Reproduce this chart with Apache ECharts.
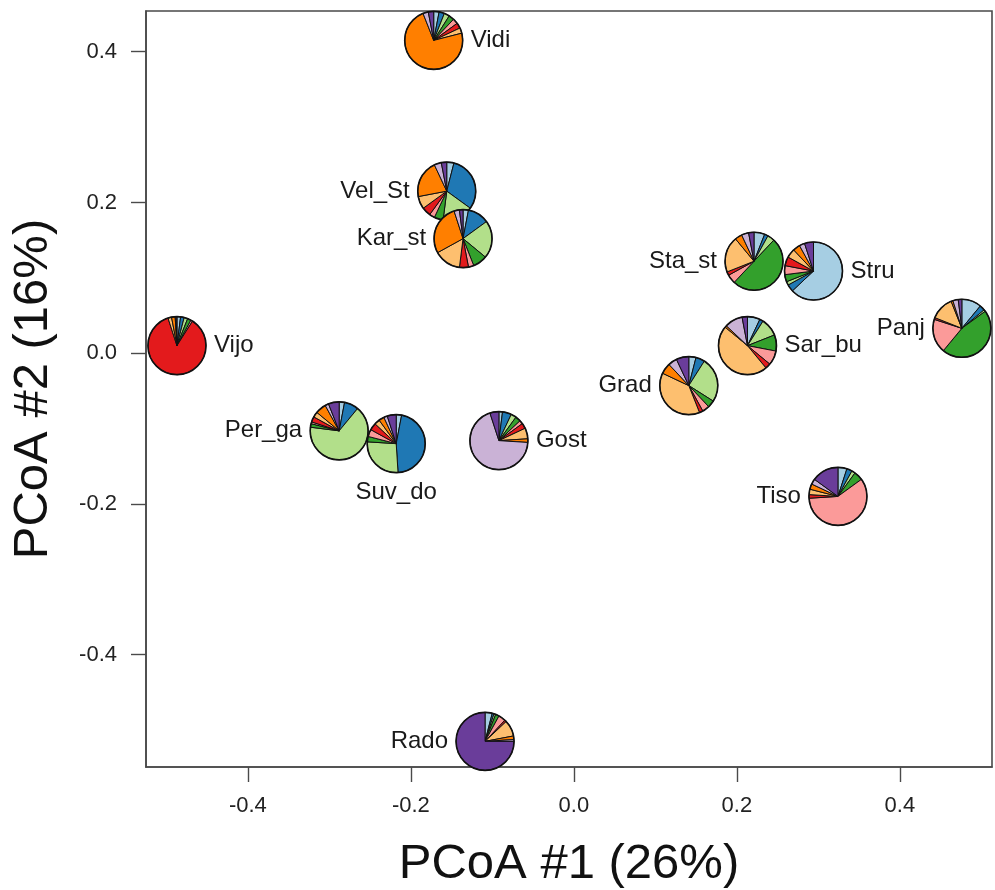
<!DOCTYPE html>
<html>
<head>
<meta charset="utf-8">
<script src="https://cdn.jsdelivr.net/npm/echarts@6/dist/echarts.min.js"></script>
<style>
  html, body { margin: 0; padding: 0; background: #fff; }
  #chart { width: 995px; height: 890px; }
</style>
</head>
<body>
<div id="chart"></div>
<script>
// Populations and their PCoA coordinates
const sites  = ['Vidi', 'Vel_St', 'Kar_st', 'Sta_st', 'Stru', 'Vijo', 'Panj', 'Sar_bu', 'Grad', 'Per_ga', 'Suv_do', 'Gost', 'Tiso', 'Rado'];
const pcoa1  = [-0.172, -0.156, -0.136, 0.221, 0.294, -0.487, 0.476, 0.213, 0.141, -0.288, -0.218, -0.092, 0.324, -0.109];
const pcoa2  = [0.415, 0.215, 0.152, 0.122, 0.109, 0.010, 0.033, 0.010, -0.043, -0.103, -0.120, -0.116, -0.190, -0.515];

// Ancestry proportions of each population over the ten genetic clusters
const shareVidi  = [0.03, 0.03, 0.03, 0.03, 0.03, 0.03, 0.03, 0.73, 0.03, 0.03];
const shareVelSt = [0.04, 0.31, 0.17, 0.05, 0.03, 0.05, 0.07, 0.21, 0.04, 0.03];
const shareKarSt = [0.03, 0.12, 0.21, 0.08, 0.03, 0.05, 0.15, 0.28, 0.03, 0.02];
const shareStaSt = [0.06, 0.02, 0.04, 0.50, 0.05, 0.02, 0.20, 0.04, 0.04, 0.03];
const shareStru  = [0.63, 0.04, 0.02, 0.04, 0.05, 0.05, 0.05, 0.04, 0.03, 0.05];
const shareVijo  = [0.02, 0.02, 0.02, 0.02, 0.01, 0.86, 0.02, 0.02, 0.005, 0.005];
const sharePanj  = [0.11, 0.03, 0.01, 0.46, 0.19, 0.01, 0.13, 0.01, 0.03, 0.02];
const shareSarBu = [0.07, 0.02, 0.10, 0.09, 0.08, 0.03, 0.47, 0.01, 0.10, 0.03];
const shareGrad  = [0.04, 0.05, 0.25, 0.04, 0.04, 0.02, 0.38, 0.06, 0.05, 0.07];
const sharePerGa = [0.03, 0.08, 0.66, 0.02, 0.01, 0.03, 0.03, 0.06, 0.02, 0.06];
const shareSuvDo = [0.03, 0.46, 0.27, 0.03, 0.04, 0.04, 0.03, 0.03, 0.02, 0.05];
const shareGost  = [0.02, 0.05, 0.03, 0.03, 0.02, 0.03, 0.06, 0.02, 0.69, 0.05];
const shareTiso  = [0.05, 0.03, 0.02, 0.05, 0.59, 0.02, 0.03, 0.03, 0.03, 0.15];
const shareRado  = [0.04, 0.01, 0.01, 0.02, 0.04, 0.01, 0.09, 0.02, 0.01, 0.75];

const shares = [shareVidi, shareVelSt, shareKarSt, shareStaSt, shareStru, shareVijo, sharePanj,
                shareSarBu, shareGrad, sharePerGa, shareSuvDo, shareGost, shareTiso, shareRado];

// Axis ticks
const xTicks = [-0.4, -0.2, 0.0, 0.2, 0.4];
const yTicks = [-0.4, -0.2, 0.0, 0.2, 0.4];
const xTitle = 'PCoA #1 (26%)';
const yTitle = 'PCoA #2 (16%)';

// Cluster colours (ColorBrewer "Paired")
const clusterColors = ['#a6cee3', '#1f78b4', '#b2df8a', '#33a02c', '#fb9a99',
                       '#e31a1c', '#fdbf6f', '#ff7f00', '#cab2d6', '#6a3d9a'];

// Which side of the pie each name sits on
const labelSide = ['right', 'left', 'left', 'left', 'right', 'right', 'left',
                   'right', 'left', 'left', 'bottom', 'right', 'left', 'left'];

const PIE_R = 29;
const LABEL_GAP = 8;
const FONT = '"Liberation Sans", Arial, Helvetica, sans-serif';

const chart = echarts.init(document.getElementById('chart'), null, { renderer: 'canvas' });

function renderPie(params, api) {
  const i = params.dataIndex;
  const c = api.coord([api.value(0), api.value(1)]);
  const parts = shares[i];
  const total = parts.reduce((a, b) => a + b, 0);
  const children = [];
  let acc = 0;
  parts.forEach((p, k) => {
    if (p <= 0) return;
    const a0 = -Math.PI / 2 + (acc / total) * Math.PI * 2;
    acc += p;
    const a1 = -Math.PI / 2 + (acc / total) * Math.PI * 2;
    children.push({
      type: 'sector',
      shape: { cx: c[0], cy: c[1], r: PIE_R, r0: 0, startAngle: a0, endAngle: a1, clockwise: true },
      style: { fill: clusterColors[k], stroke: '#111', lineWidth: 1 }
    });
  });
  children.push({
    type: 'circle',
    shape: { cx: c[0], cy: c[1], r: PIE_R },
    style: { fill: 'none', stroke: '#111', lineWidth: 1.6 }
  });
  const side = labelSide[i];
  let tx = c[0], ty = c[1], align = 'center', valign = 'middle';
  if (side === 'right') { tx = c[0] + PIE_R + LABEL_GAP; align = 'left'; }
  else if (side === 'left') { tx = c[0] - PIE_R - LABEL_GAP; align = 'right'; }
  else { ty = c[1] + PIE_R + LABEL_GAP; valign = 'top'; }
  children.push({
    type: 'text',
    style: {
      text: sites[i], x: tx, y: ty, align: align, verticalAlign: valign,
      fill: '#1a1a1a', fontSize: 24, fontFamily: FONT
    }
  });
  return { type: 'group', children: children };
}

const option = {
  backgroundColor: '#ffffff',
  animation: false,
  grid: {
    left: 146, right: 3, top: 11, bottom: 123,
    outerBoundsMode: 'none',
    show: true, borderColor: '#4a4a4a', borderWidth: 1.6, backgroundColor: 'transparent'
  },
  xAxis: {
    type: 'value', min: -0.525, max: 0.513,
    name: xTitle, nameLocation: 'middle', nameGap: 73,
    nameTextStyle: { fontSize: 49, fontFamily: FONT, color: '#111' },
    axisLine: { show: true, onZero: false, lineStyle: { color: '#4a4a4a', width: 1.6 } },
    axisTick: { show: true, length: 15, customValues: xTicks, lineStyle: { color: '#4a4a4a', width: 1.4 } },
    axisLabel: {
      customValues: xTicks, margin: 28, fontSize: 22, fontFamily: FONT, color: '#222',
      formatter: v => v.toFixed(1)
    },
    splitLine: { show: false }
  },
  yAxis: {
    type: 'value', min: -0.549, max: 0.454,
    name: yTitle, nameLocation: 'middle', nameGap: 88, nameRotate: 90,
    nameTextStyle: { fontSize: 49, fontFamily: FONT, color: '#111' },
    axisLine: { show: true, onZero: false, lineStyle: { color: '#4a4a4a', width: 1.6 } },
    axisTick: { show: true, length: 15, customValues: yTicks, lineStyle: { color: '#4a4a4a', width: 1.4 } },
    axisLabel: {
      customValues: yTicks, margin: 29, fontSize: 22, fontFamily: FONT, color: '#222',
      formatter: v => v.toFixed(1)
    },
    splitLine: { show: false }
  },
  series: [{
    type: 'custom',
    renderItem: renderPie,
    clip: false,
    data: sites.map((s, i) => [pcoa1[i], pcoa2[i]])
  }]
};

chart.setOption(option);
</script>
</body>
</html>
